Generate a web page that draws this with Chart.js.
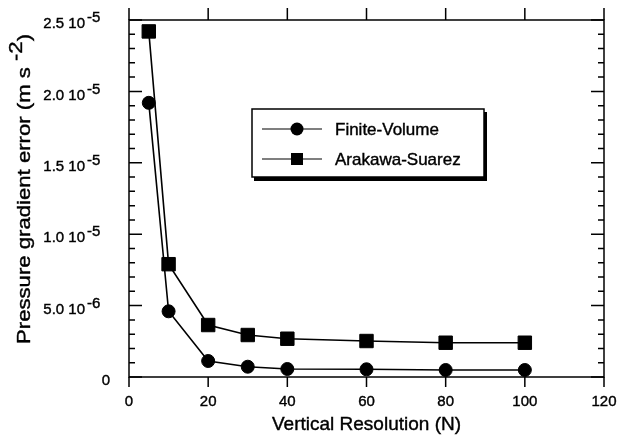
<!DOCTYPE html>
<html>
<head>
<meta charset="utf-8">
<script src="https://cdn.jsdelivr.net/npm/chart.js@4.4.1/dist/chart.umd.min.js"></script>
<style>
  html, body { margin: 0; padding: 0; background: #fff; }
  #wrap { width: 619px; height: 446px; }
</style>
</head>
<body>
<div id="wrap"><canvas id="chartError" width="619" height="446"></canvas></div>
<script>
// vertical resolution (number of levels)
var resolution = [5, 10, 20, 30, 40, 60, 80, 100];
// pressure gradient error, m s^-2
var finiteVolume = [1.92e-5, 4.6e-6, 1.12e-6, 0.72e-6, 0.56e-6, 0.54e-6, 0.49e-6, 0.49e-6];
var arakawaSuarez = [2.42e-5, 7.9e-6, 3.64e-6, 2.94e-6, 2.68e-6, 2.52e-6, 2.4e-6, 2.4e-6];

var xTicks = [0, 20, 40, 60, 80, 100, 120];
var yTicks = [0, 5e-6, 1e-5, 1.5e-5, 2e-5, 2.5e-5];
var yTickText = ["0", "5.0 10", "1.0 10", "1.5 10", "2.0 10", "2.5 10"];
var yTickExp = ["", "-6", "-5", "-5", "-5", "-5"];

function points(ys) {
  return resolution.map((x, i) => ({ x: x, y: ys[i] }));
}

var FONT = "Liberation Sans, Arial, Helvetica, sans-serif";

// text with a hairline outline so it reads a bit heavier
function label(ctx, text, x, y) {
  ctx.fillText(text, x, y);
  ctx.lineWidth = 0.4;
  ctx.strokeText(text, x, y);
}

// axes frame, inside/outside ticks, labels and the boxed legend
const frame = {
  id: "frame",
  afterDraw(chart) {
    const ctx = chart.ctx;
    const a = chart.chartArea;
    const xs = chart.scales.x;
    const ys = chart.scales.y;
    ctx.save();
    ctx.strokeStyle = "#000";
    ctx.fillStyle = "#000";
    ctx.lineWidth = 1.5;

    ctx.beginPath();
    ctx.rect(a.left, a.top, a.right - a.left, a.bottom - a.top);
    ctx.stroke();

    // x ticks, outward top and bottom
    ctx.beginPath();
    xTicks.forEach((v) => {
      const px = xs.getPixelForValue(v);
      ctx.moveTo(px, a.top);
      ctx.lineTo(px, a.top - 12);
      ctx.moveTo(px, a.bottom);
      ctx.lineTo(px, a.bottom + 10);
    });
    ctx.stroke();

    // y ticks, inward on both sides; minor every 1e-6
    ctx.beginPath();
    for (let k = 0; k <= 25; k++) {
      const py = ys.getPixelForValue(k * 1e-6);
      const len = k % 5 === 0 ? 13 : 6;
      ctx.moveTo(a.left, py);
      ctx.lineTo(a.left + len, py);
      ctx.moveTo(a.right, py);
      ctx.lineTo(a.right - len, py);
    }
    ctx.stroke();

    // x tick labels
    ctx.font = "15px " + FONT;
    ctx.textAlign = "center";
    ctx.textBaseline = "middle";
    xTicks.forEach((v) => {
      label(ctx, String(v), xs.getPixelForValue(v), 402);
    });

    // y tick labels with raised exponent
    ctx.font = "15px " + FONT;
    yTicks.forEach((v, i) => {
      const py = ys.getPixelForValue(v) + 4;
      if (!yTickExp[i]) {
        ctx.textAlign = "right";
        label(ctx, yTickText[i], 110, py);
        return;
      }
      ctx.textAlign = "right";
      label(ctx, yTickText[i], 85, py);
      ctx.textAlign = "left";
      label(ctx, yTickExp[i], 87, py - 6);
    });

    // x axis title
    ctx.font = "19px " + FONT;
    ctx.textAlign = "center";
    label(ctx, "Vertical Resolution (N)", (a.left + a.right) / 2, 425);

    // y axis title, rotated, stretched to its full length
    ctx.save();
    ctx.translate(25, 189);
    ctx.rotate(-Math.PI / 2);
    ctx.textAlign = "left";
    ctx.font = "19px " + FONT;
    const t1 = "Pressure gradient error (m s ";
    const w1 = ctx.measureText(t1).width;
    const w2 = ctx.measureText("-2").width;
    const w3 = ctx.measureText(")").width;
    const total = w1 + w2 + w3;
    ctx.scale(310 / total, 1);
    let x0 = -total / 2;
    label(ctx, t1, x0, 0);
    label(ctx, "-2", x0 + w1, -8);
    label(ctx, ")", x0 + w1 + w2, 0);
    ctx.restore();

    // legend box with drop shadow
    const bx = 252, by = 109, bw = 232, bh = 68;
    ctx.fillRect(bx + 2, by + bh, bw + 1, 4);
    ctx.fillRect(bx + bw, by + 3, 3, bh + 1);
    ctx.lineWidth = 1.5;
    ctx.strokeRect(bx, by, bw, bh);

    chart.data.datasets.forEach((ds, i) => {
      const ly = by + 20 + i * 30;
      ctx.beginPath();
      ctx.lineWidth = 1.2;
      ctx.moveTo(bx + 10, ly);
      ctx.lineTo(bx + 70, ly);
      ctx.stroke();
      Chart.helpers.drawPoint(ctx, {
        pointStyle: ds.pointStyle,
        radius: ds.pointStyle === "rect" ? 8.5 : 6.5,
        borderWidth: 0
      }, bx + 45, ly);
      ctx.font = "17px " + FONT;
      ctx.textAlign = "left";
      label(ctx, ds.label, bx + 83, ly + 1);
    });

    ctx.restore();
  }
};

var ctx1 = document.getElementById("chartError").getContext("2d");
window.ctx1 = new Chart(ctx1, {
  type: "line",
  data: {
    datasets: [
      {
        label: "Finite-Volume",
        data: points(finiteVolume),
        borderColor: "#000",
        backgroundColor: "#000",
        borderWidth: 1.6,
        pointStyle: "circle",
        pointRadius: 6.5,
        pointBorderWidth: 1,
        tension: 0,
      },
      {
        label: "Arakawa-Suarez",
        data: points(arakawaSuarez),
        borderColor: "#000",
        backgroundColor: "#000",
        borderWidth: 1.6,
        pointStyle: "rect",
        pointRadius: 9.5,
        pointBorderWidth: 1,
        tension: 0,
      },
    ],
  },
  options: {
    responsive: false,
    animation: false,
    layout: {
      padding: { left: 129, top: 20, right: 15, bottom: 69 },
    },
    plugins: {
      legend: { display: false },
      tooltip: { enabled: false },
    },
    scales: {
      x: { type: "linear", min: 0, max: 120, display: false },
      y: { type: "linear", min: 0, max: 2.5e-5, display: false },
    },
  },
  plugins: [frame],
});
</script>
</body>
</html>
